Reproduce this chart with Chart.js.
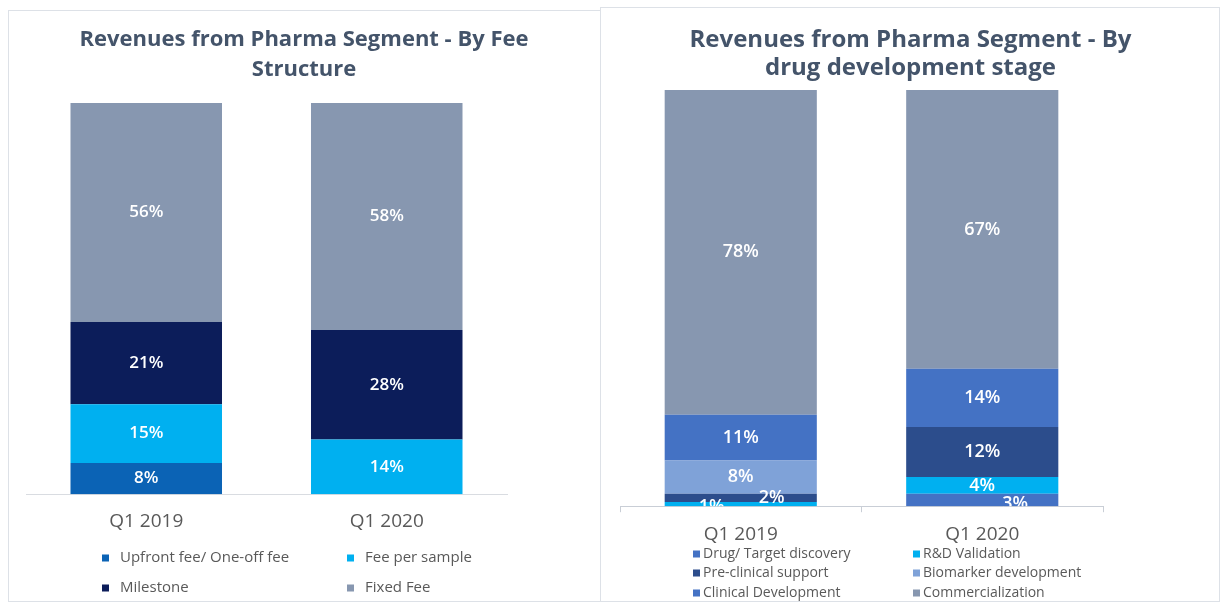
<!DOCTYPE html>
<html>
<head>
<meta charset="utf-8">
<script src="https://cdn.jsdelivr.net/npm/chart.js@4.4.1/dist/chart.umd.min.js"></script>
<style>
  html, body { margin: 0; padding: 0; background: #fff; }
  .panel { position: absolute; border: 1px solid #dde1e7; box-sizing: border-box; }
  canvas { position: absolute; top: 0; }
</style>
</head>
<body>
<div class="panel" style="left:8px;top:10px;width:593px;height:592px"></div>
<div class="panel" style="left:600px;top:7px;width:620px;height:595px"></div>
<canvas id="feeChart" style="left:0" width="600" height="604"></canvas>
<canvas id="stageChart" style="left:600px" width="621" height="604"></canvas>
<script>
const periods = ["Q1 2019", "Q1 2020"];

// fee structure (% of pharma revenue)
const feeLabels = ["Upfront fee/ One-off fee", "Fee per sample", "Milestone", "Fixed Fee"];
const upfrontFee = [8, 0];
const feePerSample = [15, 14];
const milestone = [21, 28];
const fixedFee = [56, 58];

// drug development stage (% of pharma revenue)
const stageLabels = ["Drug/ Target discovery", "R&D Validation", "Pre-clinical support",
  "Biomarker development", "Clinical Development", "Commercialization"];
const drugDiscovery = [0, 3];
const rdValidation = [1, 4];
const preClinical = [2, 12];
const biomarker = [8, 0];
const clinicalDev = [11, 14];
const commercialization = [78, 67];

const FONT = "'Open Sans', 'DejaVu Sans', sans-serif";

// percent labels in the middle of each segment
const segmentLabels = {
  id: "segmentLabels",
  afterDatasetsDraw(chart, args, opts) {
    const { ctx, chartArea } = chart;
    ctx.save();
    ctx.beginPath();
    ctx.rect(chartArea.left, chartArea.top, chartArea.width, chartArea.height);
    ctx.clip();
    ctx.font = opts.font;
    ctx.fillStyle = "#ffffff";
    ctx.textAlign = "center";
    ctx.textBaseline = "middle";
    chart.data.datasets.forEach((ds, di) => {
      chart.getDatasetMeta(di).data.forEach((bar, i) => {
        const v = ds.data[i];
        if (!v) return;
        const shift = (opts.shift && opts.shift[di + ":" + i]) || [0, 0];
        ctx.fillText(v + "%", bar.x + shift[0], (bar.y + bar.base) / 2 + shift[1]);
      });
    });
    ctx.restore();
  }
};

// legend laid out as a two column grid
const gridLegend = {
  id: "gridLegend",
  afterDraw(chart, args, opts) {
    const ctx = chart.ctx;
    ctx.save();
    ctx.font = opts.font;
    ctx.textBaseline = "middle";
    ctx.textAlign = "left";
    chart.data.datasets.forEach((ds, i) => {
      const x = opts.columns[i % opts.columns.length];
      const y = opts.rows[Math.floor(i / opts.columns.length)];
      ctx.fillStyle = ds.backgroundColor;
      ctx.fillRect(x, y - opts.box / 2, opts.box, opts.box);
      ctx.fillStyle = opts.color;
      ctx.fillText(ds.label, x + opts.gap, y);
    });
    ctx.restore();
  }
};

// invisible side axes, only used to hold the plot in place so the title stays centred on the panel
function spacer(position, width) {
  return {
    type: "linear",
    position: position,
    display: true,
    min: 0,
    max: 100,
    stacked: position === "left",
    grid: { display: false },
    border: { display: false },
    ticks: { display: false },
    afterFit(scale) { scale.width = width; }
  };
}

new Chart(document.getElementById("feeChart"), {
  type: "bar",
  data: {
    labels: periods,
    datasets: [
      { label: feeLabels[0], data: upfrontFee, backgroundColor: "#0b63b5" },
      { label: feeLabels[1], data: feePerSample, backgroundColor: "#00b0f0" },
      { label: feeLabels[2], data: milestone, backgroundColor: "#0c1d5a" },
      { label: feeLabels[3], data: fixedFee, backgroundColor: "#8797b0" }
    ]
  },
  options: {
    responsive: false,
    animation: false,
    layout: { padding: { left: 8, right: 0, top: 0, bottom: 55 } },
    datasets: { bar: { barPercentage: 0.7, categoryPercentage: 0.9, borderWidth: 0 } },
    scales: {
      x: {
        stacked: true,
        grid: { display: false, drawTicks: false },
        border: { display: true, color: "#d9dce1", width: 1 },
        ticks: { color: "#595959", padding: 16, font: { family: FONT, size: 19 } }
      },
      y: spacer("left", 18),
      y2: spacer("right", 93)
    },
    plugins: {
      legend: { display: false },
      tooltip: { enabled: false },
      title: {
        display: true,
        text: ["Revenues from Pharma Segment - By Fee", "Structure"],
        color: "#44546a",
        font: { family: FONT, size: 22, weight: "bold", lineHeight: "30px" },
        padding: { top: 25, bottom: 18 }
      },
      segmentLabels: { font: "600 17px " + FONT },
      gridLegend: {
        font: "15px " + FONT, color: "#595959",
        columns: [102, 347], rows: [558, 588], box: 7, gap: 18
      }
    }
  },
  plugins: [segmentLabels, gridLegend]
});

new Chart(document.getElementById("stageChart"), {
  type: "bar",
  data: {
    labels: periods,
    datasets: [
      { label: stageLabels[0], data: drugDiscovery, backgroundColor: "#4472c4" },
      { label: stageLabels[1], data: rdValidation, backgroundColor: "#00b0f0" },
      { label: stageLabels[2], data: preClinical, backgroundColor: "#2c4d8c" },
      { label: stageLabels[3], data: biomarker, backgroundColor: "#7fa2d8" },
      { label: stageLabels[4], data: clinicalDev, backgroundColor: "#4472c4" },
      { label: stageLabels[5], data: commercialization, backgroundColor: "#8797b0" }
    ]
  },
  options: {
    responsive: false,
    animation: false,
    layout: { padding: { left: 0, right: 0, top: 0, bottom: 47 } },
    datasets: { bar: { barPercentage: 0.7, categoryPercentage: 0.9, borderWidth: 0 } },
    scales: {
      x: {
        stacked: true,
        grid: { display: true, drawOnChartArea: false, drawTicks: true, tickLength: 6, color: "#c9ced6" },
        border: { display: true, color: "#c9ced6", width: 1, dash: [2, 2] },
        ticks: { color: "#595959", padding: 11, font: { family: FONT, size: 19 } }
      },
      y: spacer("left", 20),
      y2: spacer("right", 118)
    },
    plugins: {
      legend: { display: false },
      tooltip: { enabled: false },
      title: {
        display: true,
        text: ["Revenues from Pharma Segment - By", "drug development stage"],
        color: "#44546a",
        font: { family: FONT, size: 24, weight: "bold", lineHeight: "28px" },
        padding: { top: 26, bottom: 8 }
      },
      segmentLabels: {
        font: "600 18px " + FONT,
        // small labels were nudged aside in the original so they don't overlap
        shift: { "1:0": [-29, 3], "2:0": [31, 0], "0:1": [33, 4] }
      },
      gridLegend: {
        font: "14px " + FONT, color: "#595959",
        columns: [93, 313], rows: [554, 573, 593], box: 7, gap: 10
      }
    }
  },
  plugins: [segmentLabels, gridLegend]
});
</script>
</body>
</html>
